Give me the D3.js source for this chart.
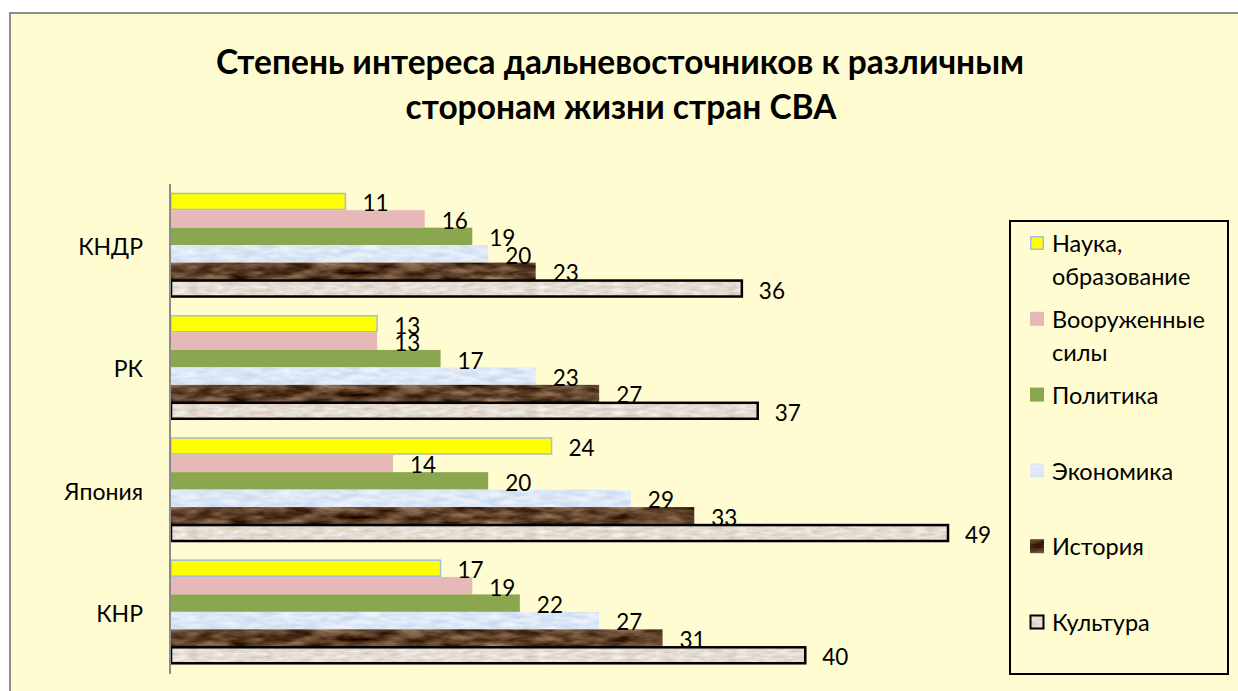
<!DOCTYPE html>
<html>
<head>
<meta charset="utf-8">
<script src="https://cdn.jsdelivr.net/npm/d3@7"></script>
<style>
  body { margin: 0; background: #fff; }
  svg { display: block; font-family: Lato, "Open Sans", "Noto Sans", sans-serif; }
</style>
</head>
<body>
<svg id="chart" width="1238" height="691"></svg>
<script>
var countries = ['КНДР', 'РК', 'Япония', 'КНР'];
var seriesNames = ['Наука, образование', 'Вооруженные силы', 'Политика', 'Экономика', 'История', 'Культура'];
var nauka = [11, 13, 24, 17];
var armiya = [16, 13, 14, 19];
var politika = [19, 17, 20, 22];
var ekonomika = [20, 23, 29, 27];
var istoriya = [23, 27, 33, 31];
var kultura = [36, 37, 49, 40];
var seriesValues = [nauka, armiya, politika, ekonomika, istoriya, kultura];

var svg = d3.select('#chart');
var defs = svg.append('defs');

// textured fills made with turbulence
function texture(id, dark, light, freqX, freqY, seed) {
  var f = defs.append('filter').attr('id', id)
    .attr('x', 0).attr('y', 0).attr('width', 1).attr('height', 1)
    .attr('color-interpolation-filters', 'sRGB');
  f.append('feTurbulence').attr('type', 'fractalNoise')
    .attr('baseFrequency', freqX + ' ' + freqY).attr('numOctaves', 3).attr('seed', seed)
    .attr('result', 'noise');
  var d = d3.color(dark), l = d3.color(light);
  var row = function(a, b) {
    var slope = (b - a) / 255 * 2.5;
    return [slope, 0, 0, 0, a / 255 - slope * 0.3];
  };
  var vals = [].concat(row(d.r, l.r), row(d.g, l.g), row(d.b, l.b), [0, 0, 0, 0, 1]);
  f.append('feColorMatrix').attr('in', 'noise').attr('type', 'matrix')
    .attr('values', vals.map(function(v) { return (+v).toFixed(4); }).join(' '))
    .attr('result', 'col');
  f.append('feComposite').attr('in', 'col').attr('in2', 'SourceGraphic').attr('operator', 'in');
}
texture('texBlue', '#d0def2', '#e9f0fa', 0.05, 0.2, 4);
texture('texBrown', '#3a1f0c', '#86664b', 0.035, 0.12, 7);
texture('texBeige', '#dcd1c6', '#efe9e2', 0.08, 0.3, 2);

var styles = [
  { fill: '#ffff00', stroke: '#a5bde2', sw: 1.5, filter: null },
  { fill: '#e6b8b7', stroke: 'none', sw: 0, filter: null },
  { fill: '#8aa64f', stroke: 'none', sw: 0, filter: null },
  { fill: '#dce6f2', stroke: 'none', sw: 0, filter: 'url(#texBlue)' },
  { fill: '#5c3a22', stroke: 'none', sw: 0, filter: 'url(#texBrown)' },
  { fill: '#e6ddd3', stroke: 'none', sw: 0, filter: 'url(#texBeige)' }
];

// frame
svg.append('rect').attr('x', 10).attr('y', 13).attr('width', 1240).attr('height', 700)
  .attr('fill', '#fffcd1').attr('stroke', '#8c8c8c').attr('stroke-width', 2);

// title
var title = svg.append('text').attr('text-anchor', 'middle')
  .attr('font-size', 33.5).attr('font-weight', 'bold').attr('fill', '#000');
title.append('tspan').attr('x', 620).attr('y', 74).text('Степень интереса дальневосточников к различным');
title.append('tspan').attr('x', 621).attr('y', 119).text('сторонам жизни стран СВА');

var x = d3.scaleLinear().domain([0, 49]).range([171, 948]);
var y0 = d3.scaleBand().domain(countries).range([184, 673]).paddingInner(1 / 7).paddingOuter(0.5 / 7);
var y1 = d3.scaleBand().domain(d3.range(seriesNames.length)).range([0, y0.bandwidth()]);

// category labels
svg.append('g').selectAll('text').data(countries).enter().append('text')
  .attr('x', 143).attr('y', function(d) { return y0(d) + y0.bandwidth() / 2 + 2; })
  .attr('dy', '0.35em').attr('text-anchor', 'end').attr('font-size', 23)
  .text(function(d) { return d; });

// bars
var groups = svg.append('g').selectAll('g').data(countries).enter().append('g')
  .attr('transform', function(d) { return 'translate(0,' + y0(d) + ')'; });

groups.each(function(c, ci) {
  var g = d3.select(this);
  seriesValues.forEach(function(vals, si) {
    var st = styles[si];
    var bx = x(0), by = y1(si), bw = x(vals[ci]) - x(0), bh = y1.bandwidth();
    g.append('rect').attr('x', bx).attr('y', by).attr('width', bw).attr('height', bh)
      .attr('fill', st.fill).attr('filter', st.filter);
    if (si === 0) {
      g.append('rect').attr('x', bx).attr('y', by + 0.75).attr('width', bw).attr('height', bh - 1.5)
        .attr('fill', 'none').attr('stroke', st.stroke).attr('stroke-width', st.sw);
    }
    if (si === 5) {
      g.append('rect').attr('x', bx).attr('y', by + 0.5).attr('width', bw).attr('height', bh - 1.5)
        .attr('fill', 'none').attr('stroke', '#000').attr('stroke-width', 2.5);
    }
  });
});

// value labels drawn after all bars
groups.each(function(c, ci) {
  var g = d3.select(this);
  seriesValues.forEach(function(vals, si) {
    g.append('text').attr('x', x(vals[ci]) + 17).attr('y', y1(si) + y1.bandwidth() / 2 + 2)
      .attr('dy', '0.35em').attr('font-size', 22.5).attr('fill', '#000')
      .text(vals[ci]);
  });
});

// axis line
svg.append('line').attr('x1', 170).attr('x2', 170).attr('y1', 184).attr('y2', 674)
  .attr('stroke', '#8c8c8c').attr('stroke-width', 2);

// legend
var legend = svg.append('g');
legend.append('rect').attr('x', 1010).attr('y', 221).attr('width', 218).attr('height', 453)
  .attr('fill', 'none').attr('stroke', '#000').attr('stroke-width', 2);
var legendLines = [['Наука,', 'образование'], ['Вооруженные', 'силы'], ['Политика'], ['Экономика'], ['История'], ['Культура']];
var legY = d3.scaleLinear().domain([0, 5]).range([243, 622]);
legendLines.forEach(function(lines, i) {
  var st = styles[i];
  var sy = legY(i);
  legend.append('rect').attr('x', 1030).attr('y', sy - 7).attr('width', 14).attr('height', 14)
    .attr('fill', st.fill).attr('filter', st.filter);
  if (i === 0) {
    legend.append('rect').attr('x', 1030.75).attr('y', sy - 6.25).attr('width', 12.5).attr('height', 12.5)
      .attr('fill', 'none').attr('stroke', st.stroke).attr('stroke-width', 1.5);
  }
  if (i === 5) {
    legend.append('rect').attr('x', 1030.5).attr('y', sy - 6.5).attr('width', 13).attr('height', 13)
      .attr('fill', 'none').attr('stroke', '#000').attr('stroke-width', 2);
  }
  var t = legend.append('text').attr('font-size', 23.5).attr('fill', '#000');
  lines.forEach(function(line, li) {
    t.append('tspan').attr('x', 1052).attr('y', sy + 1 + li * 33).attr('dy', '0.35em').text(line);
  });
});
</script>
</body>
</html>
